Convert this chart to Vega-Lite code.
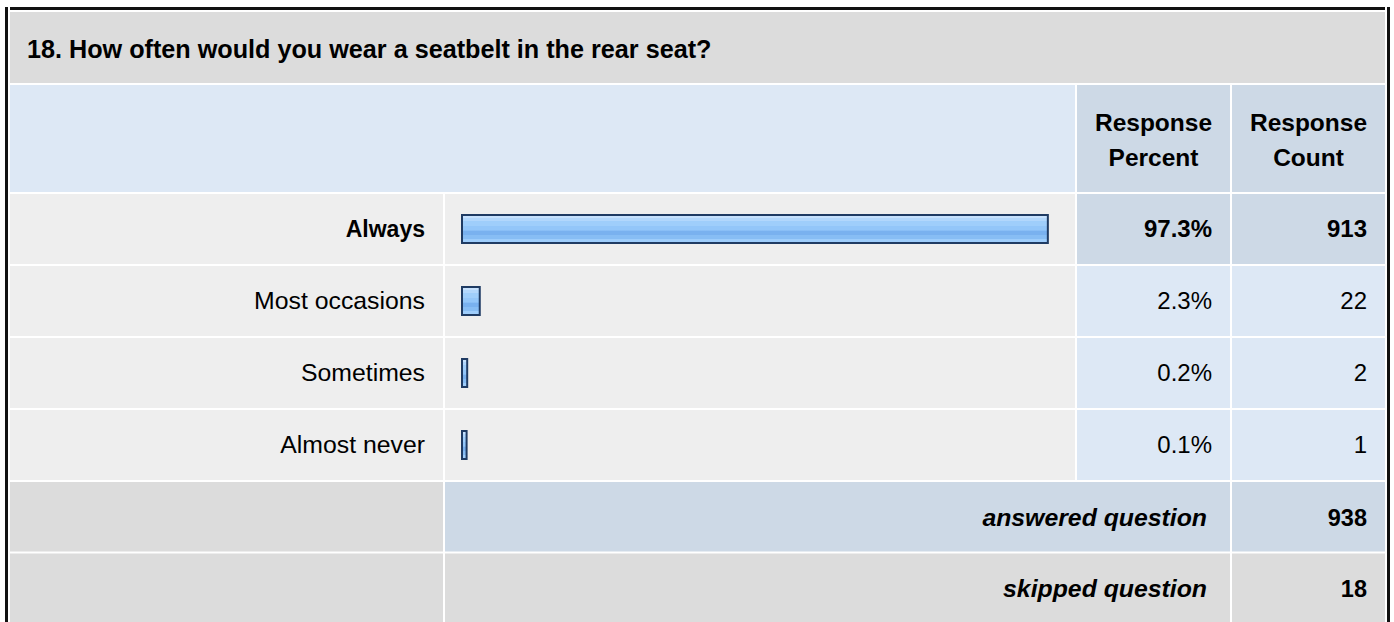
{
  "$schema": "https://vega.github.io/schema/vega-lite/v6.json",
  "background": "white",
  "padding": {"left": 5, "top": 7, "right": 0, "bottom": 0},
  "config": {
    "view": {"stroke": null},
    "concat": {"spacing": 2},
    "text": {"font": "Liberation Sans", "fontSize": 24, "color": "#000000"}
  },
  "datasets": {
    "answers": [
      {"answer": "Always", "pct": 0.973, "count": 913},
      {"answer": "Most occasions", "pct": 0.023, "count": 22},
      {"answer": "Sometimes", "pct": 0.002, "count": 2},
      {"answer": "Almost never", "pct": 0.001, "count": 1}
    ],
    "summary": [
      {"label": "answered question", "value": 938},
      {"label": "skipped question", "value": 18}
    ],
    "question": [{"text": "18. How often would you wear a seatbelt in the rear seat?"}],
    "headers": [{"h": "Response Percent"}, {"h": "Response Count"}],
    "blank": [{"cell": "frame"}]
  },
  "hconcat": [
    {
      "width": 3, "height": 616,
      "data": {"name": "blank"},
      "mark": {"type": "rect", "fill": "#111111"},
      "encoding": {}
    },
    {
      "vconcat": [
        {
          "width": 1375, "height": 3,
          "data": {"name": "blank"},
          "mark": {"type": "rect", "fill": "#111111"},
          "encoding": {}
        },
        {
          "width": 1375, "height": 71,
          "view": {"fill": "#dcdcdc", "stroke": null},
          "data": {"name": "question"},
          "mark": {"type": "text", "align": "left", "x": 0, "dx": 17, "dy": 2, "fontWeight": "bold", "fontSize": 25.2},
          "encoding": {"text": {"field": "text", "type": "nominal"}}
        },
        {
          "hconcat": [
            {
              "width": 1065, "height": 107,
              "data": {"name": "blank"},
              "mark": {"type": "rect", "fill": "#dde8f5"},
              "encoding": {}
            },
            {
              "width": 153, "height": 107,
              "view": {"fill": "#cdd9e6", "stroke": null},
              "data": {"name": "headers"},
              "transform": [{"filter": "datum.h === 'Response Percent'"}],
              "mark": {"type": "text", "fontWeight": "bold", "fontSize": 24.5, "lineBreak": " ", "lineHeight": 35, "dy": -15},
              "encoding": {"text": {"field": "h", "type": "nominal"}}
            },
            {
              "width": 153, "height": 107,
              "view": {"fill": "#cdd9e6", "stroke": null},
              "data": {"name": "headers"},
              "transform": [{"filter": "datum.h === 'Response Count'"}],
              "mark": {"type": "text", "fontWeight": "bold", "fontSize": 24.5, "lineBreak": " ", "lineHeight": 35, "dy": -15},
              "encoding": {"text": {"field": "h", "type": "nominal"}}
            }
          ]
        },
        {
          "hconcat": [
            {
              "width": 433, "height": 286,
              "data": {"name": "answers"},
              "layer": [
                {
                  "mark": {"type": "rect", "fill": "#eeeeee"},
                  "encoding": {"y": {"field": "answer", "type": "nominal", "sort": null, "scale": {"paddingInner": 0.028, "paddingOuter": 0}, "axis": null}}
                },
                {
                  "mark": {"type": "text", "align": "right", "x": "width", "dx": -18, "dy": 1,
                    "fontWeight": {"expr": "datum.answer === 'Always' ? 'bold' : 'normal'"},
                    "fontSize": {"expr": "datum.answer === 'Always' ? 23 : 24.8"}},
                  "encoding": {
                    "y": {"field": "answer", "type": "nominal", "sort": null, "scale": {"paddingInner": 0.028, "paddingOuter": 0}, "axis": null},
                    "text": {"field": "answer", "type": "nominal"}
                  }
                }
              ]
            },
            {
              "width": 630, "height": 286,
              "data": {"name": "answers"},
              "layer": [
                {
                  "mark": {"type": "rect", "fill": "#eeeeee"},
                  "encoding": {"y": {"field": "answer", "type": "nominal", "sort": null, "scale": {"paddingInner": 0.028, "paddingOuter": 0}, "axis": null}}
                },
                {
                  "mark": {
                    "type": "bar",
                    "height": {"band": 0.4},
                    "xOffset": 4,
                    "stroke": "#1f3b63",
                    "strokeWidth": 2,
                    "fill": {
                      "gradient": "linear", "x1": 0, "y1": 0, "x2": 0, "y2": 1,
                      "stops": [
                        {"offset": 0, "color": "#c6e1fd"},
                        {"offset": 0.11, "color": "#c6e1fd"},
                        {"offset": 0.12, "color": "#b2d7fc"},
                        {"offset": 0.22, "color": "#b2d7fc"},
                        {"offset": 0.23, "color": "#9fcefb"},
                        {"offset": 0.4, "color": "#9fcefb"},
                        {"offset": 0.41, "color": "#93c6f9"},
                        {"offset": 0.55, "color": "#93c6f9"},
                        {"offset": 0.56, "color": "#79b1ef"},
                        {"offset": 0.72, "color": "#79b1ef"},
                        {"offset": 0.73, "color": "#87bdf4"},
                        {"offset": 0.86, "color": "#87bdf4"},
                        {"offset": 0.87, "color": "#9ecdfb"},
                        {"offset": 1, "color": "#9ecdfb"}
                      ]
                    }
                  },
                  "encoding": {
                    "y": {"field": "answer", "type": "nominal", "sort": null, "scale": {"paddingInner": 0.028, "paddingOuter": 0}, "axis": null},
                    "x": {"field": "pct", "type": "quantitative", "scale": {"domain": [0, 1], "range": [17, 615]}, "axis": null},
                    "x2": {"datum": 0}
                  }
                }
              ]
            },
            {
              "width": 153, "height": 286,
              "data": {"name": "answers"},
              "layer": [
                {
                  "mark": {"type": "rect"},
                  "encoding": {
                    "y": {"field": "answer", "type": "nominal", "sort": null, "scale": {"paddingInner": 0.028, "paddingOuter": 0}, "axis": null},
                    "color": {"condition": {"test": "datum.answer === 'Always'", "value": "#cdd9e6"}, "value": "#dde8f5"}
                  }
                },
                {
                  "mark": {"type": "text", "align": "right", "x": "width", "dx": -18, "dy": 1, "fontSize": 24,
                    "fontWeight": {"expr": "datum.answer === 'Always' ? 'bold' : 'normal'"}},
                  "encoding": {
                    "y": {"field": "answer", "type": "nominal", "sort": null, "scale": {"paddingInner": 0.028, "paddingOuter": 0}, "axis": null},
                    "text": {"field": "pct", "type": "quantitative", "format": ".1%"}
                  }
                }
              ]
            },
            {
              "width": 153, "height": 286,
              "data": {"name": "answers"},
              "layer": [
                {
                  "mark": {"type": "rect"},
                  "encoding": {
                    "y": {"field": "answer", "type": "nominal", "sort": null, "scale": {"paddingInner": 0.028, "paddingOuter": 0}, "axis": null},
                    "color": {"condition": {"test": "datum.answer === 'Always'", "value": "#cdd9e6"}, "value": "#dde8f5"}
                  }
                },
                {
                  "mark": {"type": "text", "align": "right", "x": "width", "dx": -18, "dy": 1, "fontSize": 24,
                    "fontWeight": {"expr": "datum.answer === 'Always' ? 'bold' : 'normal'"}},
                  "encoding": {
                    "y": {"field": "answer", "type": "nominal", "sort": null, "scale": {"paddingInner": 0.028, "paddingOuter": 0}, "axis": null},
                    "text": {"field": "count", "type": "quantitative"}
                  }
                }
              ]
            }
          ]
        },
        {
          "hconcat": [
            {
              "width": 433, "height": 141,
              "data": {"name": "summary"},
              "mark": {"type": "rect", "fill": "#dcdcdc"},
              "encoding": {"y": {"field": "label", "type": "nominal", "sort": null, "scale": {"paddingInner": 0.028, "paddingOuter": 0}, "axis": null}}
            },
            {
              "width": 785, "height": 141,
              "data": {"name": "summary"},
              "layer": [
                {
                  "mark": {"type": "rect"},
                  "encoding": {
                    "y": {"field": "label", "type": "nominal", "sort": null, "scale": {"paddingInner": 0.028, "paddingOuter": 0}, "axis": null},
                    "color": {"condition": {"test": "datum.label === 'answered question'", "value": "#cdd9e6"}, "value": "#dcdcdc"}
                  }
                },
                {
                  "mark": {"type": "text", "align": "right", "x": "width", "dx": -23, "dy": 2, "fontWeight": "bold", "fontStyle": "italic", "fontSize": 24.8},
                  "encoding": {
                    "y": {"field": "label", "type": "nominal", "sort": null, "scale": {"paddingInner": 0.028, "paddingOuter": 0}, "axis": null},
                    "text": {"field": "label", "type": "nominal"}
                  }
                }
              ]
            },
            {
              "width": 153, "height": 141,
              "data": {"name": "summary"},
              "layer": [
                {
                  "mark": {"type": "rect"},
                  "encoding": {
                    "y": {"field": "label", "type": "nominal", "sort": null, "scale": {"paddingInner": 0.028, "paddingOuter": 0}, "axis": null},
                    "color": {"condition": {"test": "datum.label === 'answered question'", "value": "#cdd9e6"}, "value": "#dcdcdc"}
                  }
                },
                {
                  "mark": {"type": "text", "align": "right", "x": "width", "dx": -18, "dy": 2, "fontWeight": "bold", "fontSize": 23.5},
                  "encoding": {
                    "y": {"field": "label", "type": "nominal", "sort": null, "scale": {"paddingInner": 0.028, "paddingOuter": 0}, "axis": null},
                    "text": {"field": "value", "type": "quantitative"}
                  }
                }
              ]
            }
          ]
        }
      ]
    },
    {
      "width": 3, "height": 616,
      "data": {"name": "blank"},
      "mark": {"type": "rect", "fill": "#111111"},
      "encoding": {}
    }
  ]
}
